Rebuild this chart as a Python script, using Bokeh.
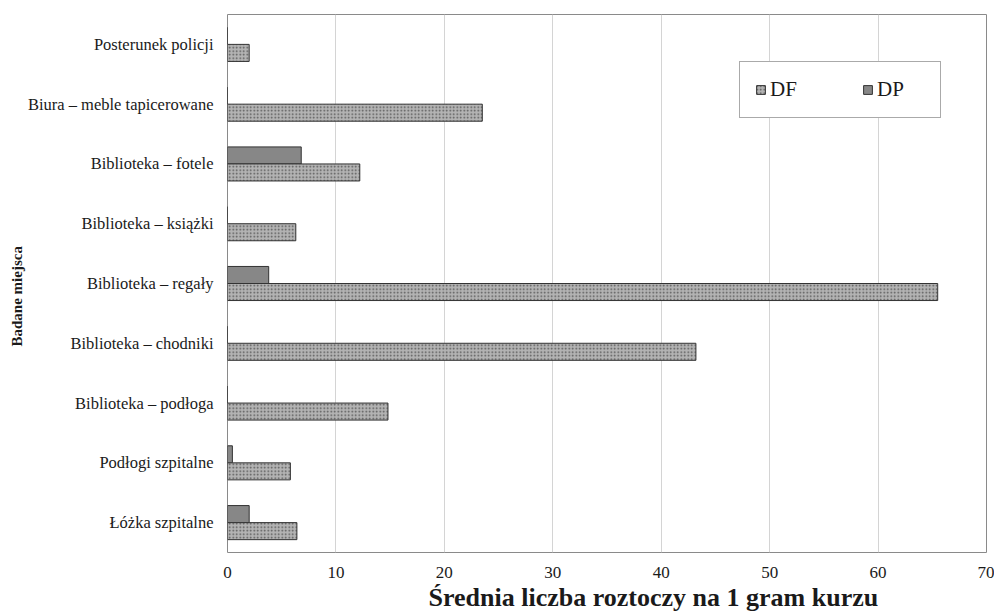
import pandas as pd
from bokeh.plotting import figure
from bokeh.models import ColumnDataSource, FactorRange, Range1d, Legend, LegendItem, FixedTicker, Title
from bokeh.transform import dodge
from bokeh.embed import file_html
from bokeh.resources import INLINE

# ---- data (bottom to top) ----
places = ["Łóżka szpitalne", "Podłogi szpitalne", "Biblioteka – podłoga",
          "Biblioteka – chodniki", "Biblioteka – regały", "Biblioteka – książki",
          "Biblioteka – fotele", "Biura – meble tapicerowane", "Posterunek policji"]
df_values = [6.4, 5.8, 14.8, 43.2, 65.5, 6.3, 12.2, 23.5, 2.0]
dp_values = [2.0, 0.45, 0.0, 0.0, 3.8, 0.0, 6.8, 0.0, 0.0]
x_ticks = [0, 10, 20, 30, 40, 50, 60, 70]
series_names = ["DF", "DP"]
x_title = "Średnia liczba roztoczy na 1 gram kurzu"
y_title = "Badane miejsca"

src = ColumnDataSource(pd.DataFrame({"place": places, "DF": df_values, "DP": dp_values}))

FONT = "Liberation Serif"
TXT = "#1a1a1a"

p = figure(width=994, height=613, y_range=FactorRange(*places), x_range=Range1d(0, 70),
           output_backend="svg", toolbar_location=None,
           min_border_left=227, min_border_top=14, min_border_right=8, min_border_bottom=61)

bar_h = 0.285
r_dp = p.hbar(y=dodge("place", bar_h / 2, range=p.y_range), right="DP", left=0, height=bar_h,
              source=src, fill_color="#878787", line_color="#333333", line_width=1)
r_df = p.hbar(y=dodge("place", -bar_h / 2, range=p.y_range), right="DF", left=0, height=bar_h,
              source=src, fill_color="#b3b3b3", line_color="#333333", line_width=1,
              hatch_pattern="dot", hatch_color="#555555", hatch_scale=3.5, hatch_weight=2.2)

p.outline_line_color = "#8a8a8a"
p.outline_line_width = 1
p.background_fill_color = "white"
p.border_fill_color = "white"

p.xgrid.grid_line_color = "#d4d4d4"
p.ygrid.grid_line_color = None
p.xaxis.ticker = FixedTicker(ticks=x_ticks)

xax = p.below[0]
yax = p.left[0]
for ax in (xax, yax):
    ax.axis_line_color = None
    ax.major_tick_line_color = None
    ax.minor_tick_line_color = None
    ax.major_tick_out = 0
    ax.major_tick_in = 0
    ax.major_label_text_color = TXT
    ax.major_label_text_font = FONT
    ax.major_label_text_font_size = "17px"
xax.major_label_standoff = 14
yax.major_label_standoff = 14
yax.major_label_text_font_size = "16.5px"

p.add_layout(Title(text=x_title, align="left", offset=201, standoff=0,
                   text_font=FONT, text_font_size="26px", text_font_style="bold",
                   text_color=TXT), "below")
p.add_layout(Title(text=y_title, align="left", offset=206, standoff=0,
                   text_font=FONT, text_font_size="15px", text_font_style="bold",
                   text_color=TXT), "left")

legend = Legend(items=[LegendItem(label=series_names[0], renderers=[r_df]),
                       LegendItem(label=series_names[1], renderers=[r_dp])],
                orientation="horizontal", location=(512, 434),
                padding=15, spacing=44, label_width=48, label_standoff=4,
                glyph_width=11, glyph_height=11, label_height=20,
                label_text_font=FONT, label_text_font_size="21px", label_text_color=TXT,
                border_line_color="#555555", border_line_width=1,
                background_fill_color="white", background_fill_alpha=1)
p.add_layout(legend, "center")

open("out.html", "w").write(file_html(p, INLINE))
